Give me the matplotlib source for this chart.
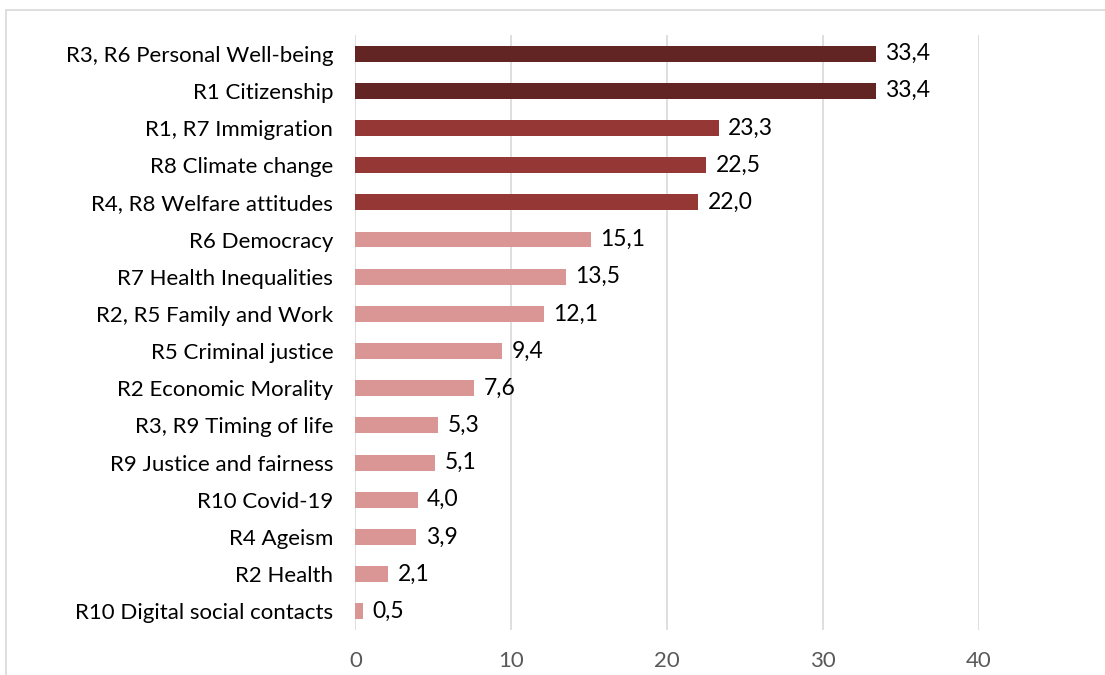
import matplotlib.pyplot as plt
from matplotlib.patches import Rectangle

topics = [
    "R3, R6 Personal Well-being",
    "R1 Citizenship",
    "R1, R7 Immigration",
    "R8 Climate change",
    "R4, R8 Welfare attitudes",
    "R6 Democracy",
    "R7 Health Inequalities",
    "R2, R5 Family and Work",
    "R5 Criminal justice",
    "R2 Economic Morality",
    "R3, R9 Timing of life",
    "R9 Justice and fairness",
    "R10 Covid-19",
    "R4 Ageism",
    "R2 Health",
    "R10 Digital social contacts",
]
shares = [33.4, 33.4, 23.3, 22.5, 22.0, 15.1, 13.5, 12.1, 9.4, 7.6, 5.3, 5.1, 4.0, 3.9, 2.1, 0.5]
# colour group per topic: 0 = top, 1 = high, 2 = rest
groups = [0, 0, 1, 1, 1, 2, 2, 2, 2, 2, 2, 2, 2, 2, 2, 2]
palette = ["#632523", "#953735", "#D99694"]

plt.rcParams["font.family"] = ["Lato", "DejaVu Sans"]

fig = plt.figure(figsize=(11.05, 6.75), dpi=100)
ax = fig.add_axes([0.3217, 0.0667, 0.5643, 0.8815])

ypos = list(range(len(topics)))
ax.barh(ypos, shares, height=0.43, color=[palette[g] for g in groups], zorder=3)
ax.set_ylim(len(topics) - 0.5, -0.5)
ax.set_xlim(0, 40)

for y, v in zip(ypos, shares):
    ax.text(v + 0.6, y, f"{v:.1f}".replace(".", ","), va="center", ha="left",
            fontsize=16.5, color="black")

ax.set_yticks(ypos)
ax.set_yticklabels(topics, fontsize=16, color="black")
ax.set_xticks([0, 10, 20, 30, 40])
ax.tick_params(axis="x", labelsize=16, labelcolor="#595959", length=0, pad=15)
ax.tick_params(axis="y", length=0, pad=16)
ax.grid(axis="x", color="#D9D9D9", linewidth=1.2, zorder=0)
for s in ax.spines.values():
    s.set_visible(False)

# chart frame
fig.patches.append(Rectangle((6 / 1105, -0.1), 1.1, 1 - 10 / 675 + 0.1,
                             transform=fig.transFigure, fill=False,
                             edgecolor="#D9D9D9", linewidth=1.2))

fig.savefig("out.png", dpi=100)
